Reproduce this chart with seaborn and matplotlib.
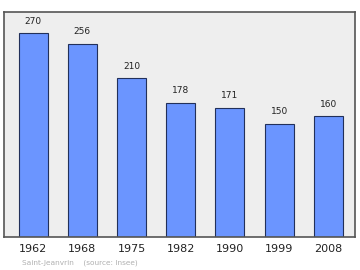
import matplotlib
matplotlib.use("Agg")
import matplotlib.pyplot as plt
import seaborn as sns
import pandas as pd

years = ["1962", "1968", "1975", "1982", "1990", "1999", "2008"]
population = [270, 256, 210, 178, 171, 150, 160]

sns.set_theme(style="white")
plt.rcParams['font.family'] = ['DejaVu Sans']

df = pd.DataFrame({"year": years, "pop": population})

fig = plt.figure(figsize=(3.6, 2.7), dpi=100)
ax = fig.add_axes([4/360, 33/270, 351/360, 225/270])
ax.set_facecolor("#eeeeee")

sns.barplot(data=df, x="year", y="pop", color="#6b95ff", saturation=1,
            width=0.59, edgecolor="#22305a", linewidth=0.8, ax=ax)

for i, v in enumerate(population):
    ax.text(i, v + 10, str(v), ha="center", va="bottom", fontsize=6.5, color="#222222")

ax.set_ylim(0, 298)
ax.set_xlim(-0.59, 6.54)
ax.set_yticks([])
ax.set_xlabel("")
ax.set_ylabel("")
ax.tick_params(axis="x", length=0, pad=5, labelsize=8, colors="#222222")
for s in ax.spines.values():
    s.set_visible(True)
    s.set_color("#555555")
    s.set_linewidth(1.2)

fig.text(22/360, 1 - 263/270, "Saint-Jeanvrin    (source: Insee)", fontsize=5.3,
         color="#b0b0b0", va="center", ha="left")

fig.savefig("out.png", dpi=100, facecolor="white")
